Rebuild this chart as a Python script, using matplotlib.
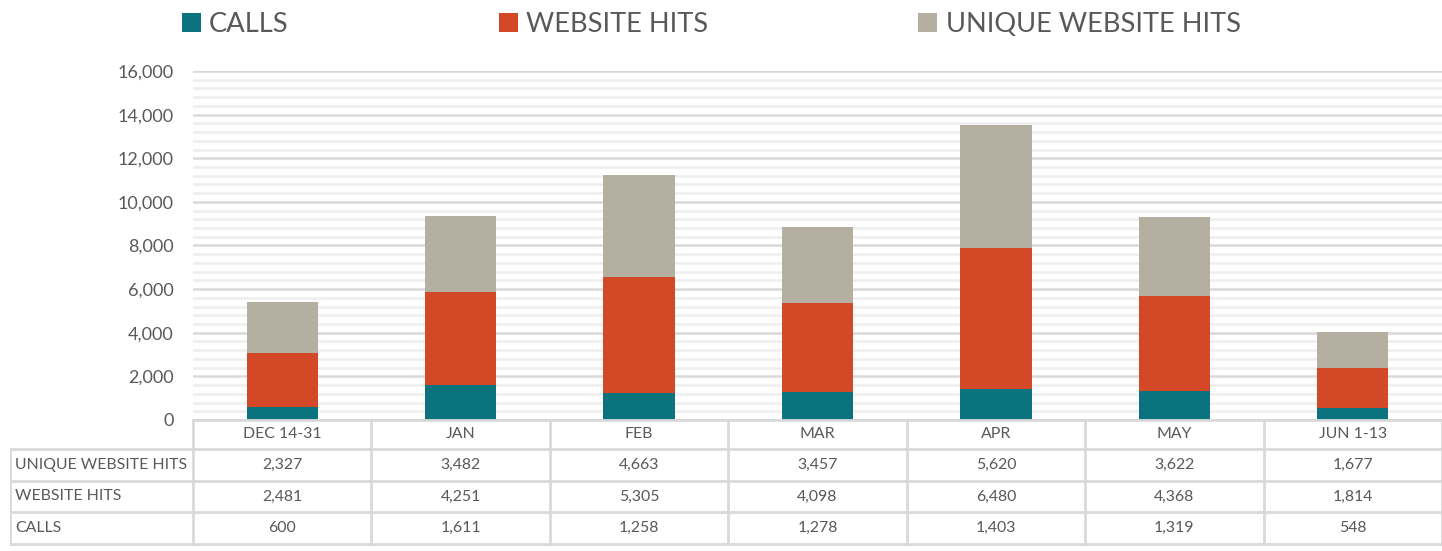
import matplotlib
matplotlib.use("Agg")
import matplotlib.pyplot as plt
from matplotlib.ticker import MultipleLocator, FuncFormatter

categories = ["DEC 14-31", "JAN", "FEB", "MAR", "APR", "MAY", "JUN 1-13"]
calls = [600, 1611, 1258, 1278, 1403, 1319, 548]
website_hits = [2481, 4251, 5305, 4098, 6480, 4368, 1814]
unique_hits = [2327, 3482, 4663, 3457, 5620, 3622, 1677]
series_names = ["CALLS", "WEBSITE HITS", "UNIQUE WEBSITE HITS"]
colors = ["#0B737E", "#D34826", "#B5AFA2"]

plt.rcParams['font.family'] = ['Lato', 'DejaVu Sans']
TXT = "#595959"
GRID_MAJ = "#D9D9D9"
GRID_MIN = "#EEEEEE"

W, H = 1442, 551
fig = plt.figure(figsize=(W / 100, H / 100), dpi=100)

x0, x1 = 193, 1442
ytop, ybot = 71, 420
ax = fig.add_axes([x0 / W, (H - ybot) / H, (x1 - x0) / W, (ybot - ytop) / H])
n = len(categories)
xs = list(range(n))
ax.set_xlim(-0.5, n - 0.5)
ax.set_ylim(0, 16000)

bw = 0.4
b1 = ax.bar(xs, calls, bw, color=colors[0], zorder=3, label=series_names[0])
bottom2 = calls
b2 = ax.bar(xs, website_hits, bw, bottom=bottom2, color=colors[1], zorder=3, label=series_names[1])
bottom3 = [c + w for c, w in zip(calls, website_hits)]
b3 = ax.bar(xs, unique_hits, bw, bottom=bottom3, color=colors[2], zorder=3, label=series_names[2])

ax.yaxis.set_major_locator(MultipleLocator(2000))
ax.yaxis.set_minor_locator(MultipleLocator(400))
ax.yaxis.set_major_formatter(FuncFormatter(lambda v, p: f"{int(v):,}"))
ax.grid(axis='y', which='major', color=GRID_MAJ, linewidth=1.8, zorder=0)
ax.grid(axis='y', which='minor', color=GRID_MIN, linewidth=1.8, zorder=0)
ax.tick_params(axis='y', which='both', length=0, labelsize=13, labelcolor=TXT, pad=14)
ax.tick_params(axis='x', which='both', length=0, labelbottom=False)
for s in ax.spines.values():
    s.set_visible(False)

# legend
fig.legend(handles=[b1, b2, b3], labels=series_names, loc='upper left',
           bbox_to_anchor=(160 / W, 1 + 10 / H), ncol=3, frameon=False,
           fontsize=19.6, labelcolor=TXT, handlelength=0.7, handleheight=0.7,
           handletextpad=0.3, columnspacing=7.72, borderpad=0.3)

# data table
tx0 = 10
tax = fig.add_axes([tx0 / W, (H - 546) / H, (x1 - tx0) / W, (546 - 418) / H])
left_edge = -0.5 - (x0 - tx0) / ((x1 - x0) / n)
tax.set_xlim(left_edge, n - 0.5)
tax.set_ylim(546, 418)
tax.axis('off')

row_lines = [420, 449, 481, 512, 544]
lw = 2.0
tax.plot([-0.5, n - 0.5], [row_lines[0]] * 2, color=GRID_MAJ, lw=lw)
for y in row_lines[1:]:
    tax.plot([left_edge, n - 0.5], [y, y], color=GRID_MAJ, lw=lw)
tax.plot([left_edge, left_edge], [row_lines[1], row_lines[-1]], color=GRID_MAJ, lw=lw)
for i in range(n + 1):
    tax.plot([i - 0.5, i - 0.5], [row_lines[0], row_lines[-1]], color=GRID_MAJ, lw=lw)

fs = 11.4
centers = [(row_lines[i] + row_lines[i + 1]) / 2 for i in range(4)]
for i, c in enumerate(categories):
    tax.text(i, centers[0], c, ha='center', va='center', fontsize=fs, color=TXT)
rows = [(series_names[2], unique_hits), (series_names[1], website_hits), (series_names[0], calls)]
for r, (name, vals) in enumerate(rows):
    yc = centers[r + 1]
    tax.text(left_edge + 0.03, yc, name, ha='left', va='center', fontsize=fs, color=TXT)
    for i, v in enumerate(vals):
        tax.text(i, yc, f"{v:,}", ha='center', va='center', fontsize=fs, color=TXT)

fig.savefig("out.png", dpi=100)
